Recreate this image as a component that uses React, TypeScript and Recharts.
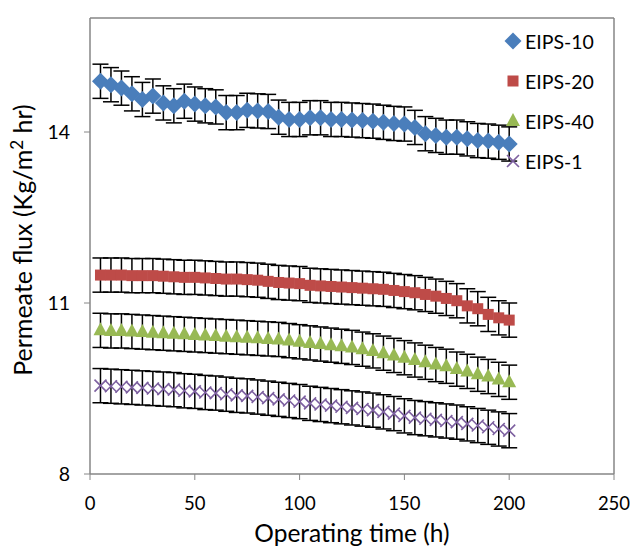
import React from 'react';
import { ComposedChart, Line, XAxis, YAxis, ErrorBar, ReferenceLine, Label } from 'recharts';

const hours = [5, 10, 15, 20, 25, 30, 35, 40, 45, 50, 55, 60, 65, 70, 75, 80, 85, 90, 95, 100,
  105, 110, 115, 120, 125, 130, 135, 140, 145, 150, 155, 160, 165, 170, 175, 180, 185, 190, 195, 200];

const eips10 = [14.89, 14.83, 14.77, 14.67, 14.57, 14.63, 14.51, 14.46, 14.54, 14.49,
  14.46, 14.44, 14.34, 14.34, 14.38, 14.37, 14.36, 14.26, 14.22, 14.22,
  14.25, 14.25, 14.22, 14.22, 14.21, 14.20, 14.19, 14.17, 14.15, 14.14,
  14.08, 13.97, 13.94, 13.91, 13.91, 13.88, 13.85, 13.84, 13.82, 13.79];

const eips20 = [11.49, 11.49, 11.49, 11.48, 11.48, 11.48, 11.47, 11.46, 11.45, 11.45,
  11.44, 11.43, 11.42, 11.42, 11.41, 11.40, 11.38, 11.36, 11.35, 11.34,
  11.31, 11.30, 11.29, 11.28, 11.27, 11.26, 11.25, 11.24, 11.22, 11.20,
  11.18, 11.15, 11.12, 11.08, 11.04, 10.95, 10.90, 10.80, 10.74, 10.70];

const eips40 = [10.52, 10.51, 10.51, 10.50, 10.49, 10.48, 10.47, 10.46, 10.45, 10.44,
  10.43, 10.42, 10.41, 10.40, 10.39, 10.38, 10.37, 10.36, 10.34, 10.32,
  10.30, 10.28, 10.26, 10.24, 10.22, 10.19, 10.16, 10.12, 10.08, 10.04,
  10.00, 9.96, 9.92, 9.89, 9.84, 9.80, 9.75, 9.71, 9.66, 9.61];

const eips1 = [9.55, 9.54, 9.53, 9.52, 9.51, 9.50, 9.49, 9.48, 9.46, 9.45,
  9.43, 9.42, 9.40, 9.38, 9.37, 9.35, 9.33, 9.31, 9.29, 9.27,
  9.24, 9.22, 9.20, 9.18, 9.16, 9.14, 9.12, 9.09, 9.06, 9.02,
  8.99, 8.97, 8.95, 8.93, 8.91, 8.88, 8.85, 8.82, 8.79, 8.76];

// same +/- error on every point
const errorSize = 0.3;

const xTicks = [0, 50, 100, 150, 200, 250];
const yTicks = [8, 11, 14];

const data = hours.map((t, i) => ({
  t,
  eips10: eips10[i],
  eips20: eips20[i],
  eips40: eips40[i],
  eips1: eips1[i],
  err: errorSize,
}));

const FONT = 'Lato, "Open Sans", sans-serif';
const AXIS = '#868686';

const Diamond = ({ cx, cy }: any) => {
  if (cx == null || cy == null) return null;
  const r = 8.5;
  return <path d={`M${cx},${cy - r}L${cx + r},${cy}L${cx},${cy + r}L${cx - r},${cy}Z`} fill="#4a7ebb" />;
};

const Square = ({ cx, cy }: any) => {
  if (cx == null || cy == null) return null;
  return <rect x={cx - 5.5} y={cy - 5.5} width={11} height={11} fill="#be4b48" />;
};

const Triangle = ({ cx, cy }: any) => {
  if (cx == null || cy == null) return null;
  return <path d={`M${cx},${cy - 8}L${cx + 7},${cy + 5}L${cx - 7},${cy + 5}Z`} fill="#98b954" />;
};

const Cross = ({ cx, cy }: any) => {
  if (cx == null || cy == null) return null;
  const r = 6;
  return (
    <path d={`M${cx - r},${cy - r}L${cx + r},${cy + r}M${cx - r},${cy + r}L${cx + r},${cy - r}`}
      stroke="#7d60a0" strokeWidth={1.6} fill="none" />
  );
};

const series = [
  { key: 'eips10', name: 'EIPS-10', Shape: Diamond },
  { key: 'eips20', name: 'EIPS-20', Shape: Square },
  { key: 'eips40', name: 'EIPS-40', Shape: Triangle },
  { key: 'eips1', name: 'EIPS-1', Shape: Cross },
];

const ChartLegend = () => (
  <div style={{ position: 'absolute', left: 502, top: 21, fontFamily: FONT, fontSize: 19.5, color: '#000' }}>
    {series.map((s) => (
      <div key={s.key} style={{ display: 'flex', alignItems: 'center', height: 40 }}>
        <svg width={22} height={20}>
          <s.Shape cx={11} cy={10} />
        </svg>
        <span style={{ marginLeft: 1 }}>{s.name}</span>
      </div>
    ))}
  </div>
);

const YLabel = ({ viewBox }: any) => {
  const x = 32;
  const y = viewBox.y + viewBox.height / 2 - 6;
  return (
    <text x={x} y={y} transform={`rotate(-90, ${x}, ${y})`} textAnchor="middle"
      fontFamily={FONT} fontSize={25} fill="#000">
      Permeate flux (Kg/m<tspan dy={-9} fontSize={17}>2</tspan><tspan dy={9}> hr)</tspan>
    </text>
  );
};

const XLabel = ({ viewBox }: any) => (
  <text x={viewBox.x + viewBox.width / 2} y={542} textAnchor="middle"
    fontFamily={FONT} fontSize={24.5} fill="#000">
    Operating time (h)
  </text>
);

export default function App() {
  return (
    <div style={{ position: 'absolute', left: 0, top: 0, width: 630, height: 550, background: '#fff' }}>
      <ComposedChart width={630} height={550} data={data}
        margin={{ top: 18, right: 16, left: 0, bottom: 0 }}>
        <XAxis type="number" dataKey="t" domain={[0, 250]} ticks={xTicks}
          axisLine={{ stroke: AXIS, strokeWidth: 1.5 }} tickLine={{ stroke: AXIS }} tickSize={6}
          tickMargin={17} tick={{ fill: '#000', fontSize: 18.5, fontFamily: FONT }} height={76}>
          <Label content={<XLabel />} />
        </XAxis>
        <YAxis type="number" domain={[8, 16]} ticks={yTicks} width={90}
          axisLine={{ stroke: AXIS, strokeWidth: 1.5 }} tickLine={{ stroke: AXIS }} tickSize={6}
          tickMargin={14} tick={{ fill: '#000', fontSize: 19.5, fontFamily: FONT }}>
          <Label content={<YLabel />} />
        </YAxis>
        <ReferenceLine y={16} stroke={AXIS} strokeWidth={1.5} />
        <ReferenceLine x={250} stroke={AXIS} strokeWidth={1.5} />
        {series.map((s) => (
          <Line key={s.key} dataKey={s.key} name={s.name} stroke="none"
            dot={<s.Shape />} activeDot={false} isAnimationActive={false}>
            <ErrorBar dataKey="err" direction="y" width={8} stroke="#000" strokeWidth={1.5} />
          </Line>
        ))}
      </ComposedChart>
      <ChartLegend />
    </div>
  );
}
